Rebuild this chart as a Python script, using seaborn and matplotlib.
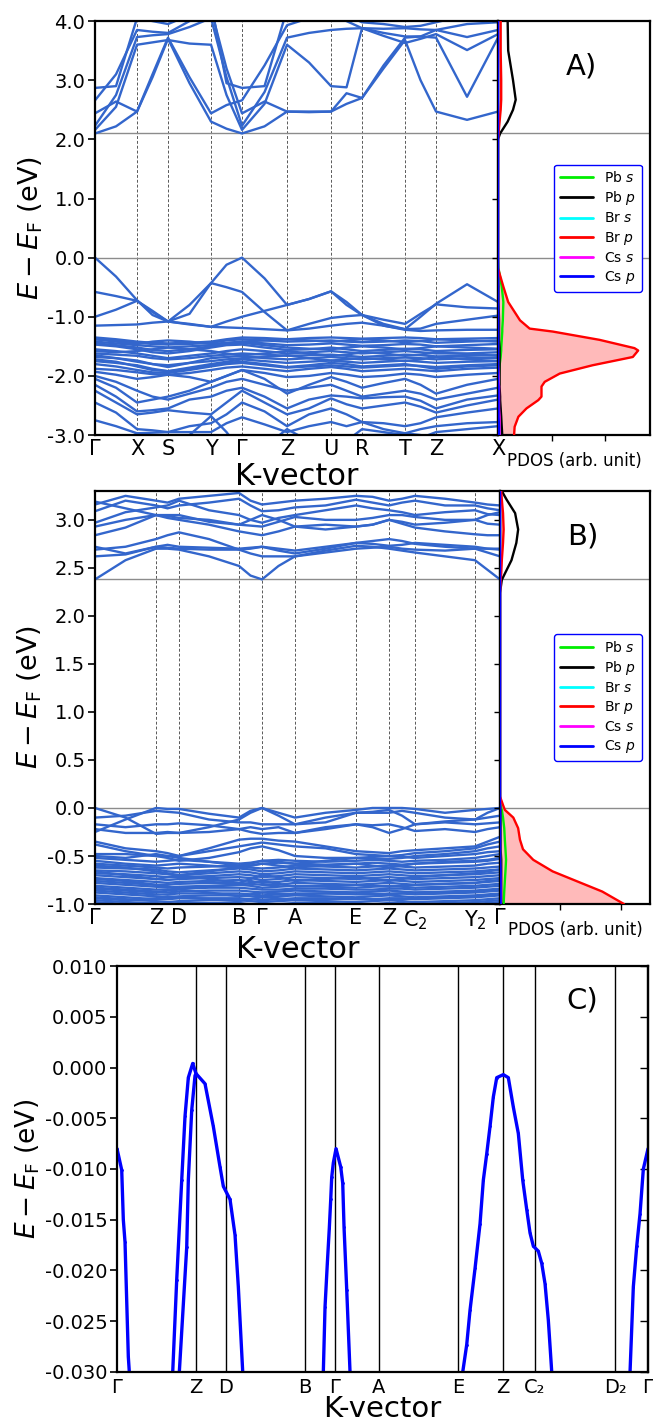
import numpy as np
import pandas as pd
import matplotlib
matplotlib.use("Agg")
import matplotlib.pyplot as plt
from matplotlib.lines import Line2D
from matplotlib.ticker import FormatStrFormatter
import seaborn as sns

sns.set_style("ticks", rc={'axes.edgecolor': 'black', 'text.color': 'black',
                           'axes.labelcolor': 'black', 'xtick.color': 'black',
                           'ytick.color': 'black'})
plt.rcParams['font.family'] = ['DejaVu Sans']
plt.rcParams['axes.unicode_minus'] = False
plt.rcParams['mathtext.fontset'] = 'dejavusans'

BAND_COLOR = '#3366cc'
YLABEL = r'$E-E_{\mathrm{F}}$ (eV)'

# ---------------- Panel A: band structure along G-X-S-Y-G-Z-U-R-T-Z-X ----------------
kA_labels = ['Γ', 'X', 'S', 'Y', 'Γ', 'Z', 'U', 'R', 'T', 'Z', 'X']
kA_ticks = [0.0, 0.42, 0.73, 1.16, 1.47, 1.92, 2.36, 2.67, 3.10, 3.41, 4.03]
gapA = [0.0, 2.10]

condA = [
    [2.10, 2.22, 2.47, 3.05, 3.70, 2.95, 2.30, 2.18, 2.10, 2.22, 2.47, 2.46, 2.47, 2.60, 2.70, 3.20, 3.68, 3.00, 2.47, 2.33, 2.47],
    [2.44, 2.64, 2.47, 3.10, 3.72, 3.05, 2.44, 2.58, 2.66, 3.25, 3.93, 4.05, 4.10, 4.00, 3.88, 3.87, 3.88, 3.86, 3.85, 3.73, 3.85],
    [2.16, 2.55, 3.60, 3.64, 3.68, 3.62, 3.60, 2.75, 2.16, 2.60, 3.60, 3.30, 2.90, 2.88, 3.88, 3.80, 3.74, 3.74, 3.72, 2.72, 3.72],
    [2.23, 2.75, 3.73, 3.76, 3.78, 3.90, 4.05, 3.05, 2.23, 2.80, 3.72, 3.80, 3.85, 3.87, 3.88, 3.75, 3.63, 3.70, 3.78, 3.51, 3.78],
    [2.66, 3.10, 3.85, 3.82, 3.80, 4.00, 4.20, 3.20, 2.44, 2.64, 2.47, 2.47, 2.47, 2.78, 2.70, 3.25, 3.72, 3.74, 3.85, 3.95, 3.98],
    [2.87, 2.90, 4.05, 4.00, 3.95, 4.10, 4.30, 2.95, 2.87, 2.90, 4.20, 4.25, 4.20, 4.10, 3.98, 3.95, 3.90, 3.92, 3.98, 4.10, 4.15],
]

valA = [
    [0.00, -0.32, -0.72, -0.97, -1.08, -0.80, -0.43, -0.12, 0.00, -0.35, -0.80, -0.70, -0.57, -0.75, -0.97, -1.12, -1.21, -1.00, -0.78, -0.45, -0.75],
    [-0.58, -0.65, -0.73, -0.92, -1.08, -0.95, -0.43, -0.50, -0.58, -0.92, -1.23, -1.12, -1.02, -0.99, -0.97, -1.05, -1.12, -0.95, -0.79, -0.84, -0.86],
    [-1.00, -0.88, -0.73, -0.90, -1.08, -1.13, -1.17, -1.08, -1.00, -0.90, -0.80, -0.70, -0.57, -0.80, -0.97, -1.15, -1.21, -1.20, -1.12, -1.05, -0.98],
    [-1.15, -1.14, -1.13, -1.10, -1.08, -1.12, -1.17, -1.18, -1.19, -1.21, -1.23, -1.20, -1.15, -1.12, -1.10, -1.15, -1.22, -1.24, -1.23, -1.22, -1.22],
    [-1.35, -1.38, -1.42, -1.44, -1.45, -1.44, -1.42, -1.38, -1.35, -1.36, -1.38, -1.36, -1.35, -1.36, -1.37, -1.36, -1.35, -1.36, -1.38, -1.37, -1.36],
    [-1.38, -1.40, -1.44, -1.46, -1.47, -1.46, -1.44, -1.40, -1.38, -1.40, -1.42, -1.41, -1.40, -1.42, -1.43, -1.42, -1.40, -1.41, -1.44, -1.42, -1.40],
    [-1.42, -1.45, -1.48, -1.50, -1.52, -1.50, -1.48, -1.45, -1.42, -1.45, -1.48, -1.47, -1.45, -1.47, -1.49, -1.48, -1.46, -1.47, -1.50, -1.48, -1.46],
    [-1.47, -1.50, -1.55, -1.60, -1.62, -1.58, -1.52, -1.48, -1.47, -1.52, -1.56, -1.55, -1.52, -1.55, -1.58, -1.56, -1.54, -1.55, -1.58, -1.56, -1.55],
    [-1.55, -1.58, -1.62, -1.66, -1.70, -1.66, -1.62, -1.58, -1.55, -1.58, -1.62, -1.60, -1.58, -1.60, -1.62, -1.60, -1.58, -1.60, -1.62, -1.62, -1.60],
    [-1.62, -1.64, -1.66, -1.70, -1.72, -1.70, -1.66, -1.64, -1.62, -1.64, -1.66, -1.65, -1.64, -1.66, -1.68, -1.66, -1.64, -1.65, -1.67, -1.66, -1.65],
    [-1.68, -1.70, -1.74, -1.80, -1.85, -1.78, -1.70, -1.68, -1.66, -1.70, -1.72, -1.70, -1.68, -1.70, -1.72, -1.70, -1.69, -1.70, -1.72, -1.70, -1.70],
    [-1.75, -1.78, -1.82, -1.88, -1.92, -1.86, -1.80, -1.76, -1.72, -1.75, -1.78, -1.76, -1.74, -1.76, -1.78, -1.76, -1.74, -1.76, -1.78, -1.76, -1.75],
    [-1.80, -1.84, -1.90, -1.94, -1.95, -1.90, -1.84, -1.80, -1.78, -1.82, -1.86, -1.84, -1.82, -1.84, -1.86, -1.84, -1.82, -1.83, -1.85, -1.82, -1.80],
    [-1.88, -1.90, -1.94, -1.97, -1.98, -1.95, -1.90, -1.86, -1.84, -1.88, -1.92, -1.88, -1.85, -1.88, -1.92, -1.90, -1.88, -1.90, -1.92, -1.88, -1.86],
    [-1.93, -1.98, -2.05, -2.02, -1.98, -2.02, -2.10, -2.00, -1.90, -1.95, -2.02, -2.00, -1.95, -1.98, -2.02, -2.00, -1.96, -1.98, -2.02, -1.98, -1.95],
    [-1.45, -1.48, -1.52, -1.56, -1.58, -1.55, -1.50, -1.46, -1.44, -1.48, -1.52, -1.54, -1.55, -1.52, -1.50, -1.52, -1.55, -1.53, -1.50, -1.52, -1.54],
    [-1.58, -1.60, -1.58, -1.55, -1.52, -1.55, -1.58, -1.62, -1.65, -1.62, -1.58, -1.62, -1.66, -1.64, -1.60, -1.62, -1.66, -1.64, -1.60, -1.63, -1.66],
    [-1.65, -1.70, -1.76, -1.80, -1.82, -1.78, -1.75, -1.72, -1.70, -1.68, -1.65, -1.70, -1.74, -1.72, -1.70, -1.72, -1.75, -1.72, -1.68, -1.72, -1.75],
    [-1.72, -1.76, -1.84, -1.90, -1.92, -1.88, -1.82, -1.78, -1.76, -1.80, -1.85, -1.82, -1.78, -1.80, -1.84, -1.82, -1.80, -1.84, -1.88, -1.84, -1.82],
    [-1.38, -1.42, -1.46, -1.42, -1.40, -1.42, -1.46, -1.44, -1.42, -1.40, -1.38, -1.40, -1.42, -1.40, -1.38, -1.40, -1.43, -1.41, -1.38, -1.40, -1.42],
    [-2.05, -2.20, -2.45, -2.40, -2.35, -2.25, -2.10, -2.00, -1.90, -2.05, -2.30, -2.15, -2.02, -2.10, -2.20, -2.12, -2.05, -2.15, -2.30, -2.15, -2.05],
    [-2.15, -2.35, -2.60, -2.58, -2.55, -2.40, -2.35, -2.25, -2.20, -2.35, -2.55, -2.40, -2.33, -2.35, -2.38, -2.36, -2.35, -2.42, -2.55, -2.40, -2.33],
    [-2.25, -2.45, -2.65, -2.62, -2.58, -2.62, -2.65, -2.45, -2.25, -2.45, -2.65, -2.55, -2.38, -2.48, -2.55, -2.50, -2.45, -2.52, -2.62, -2.50, -2.40],
    [-2.45, -2.62, -2.90, -2.92, -2.95, -2.85, -2.80, -2.65, -2.45, -2.60, -2.85, -2.65, -2.55, -2.65, -2.78, -2.80, -2.85, -2.80, -2.70, -2.62, -2.55],
    [-2.75, -2.85, -2.97, -2.96, -2.95, -2.95, -2.95, -2.80, -2.70, -2.82, -2.95, -2.85, -2.78, -2.85, -2.78, -2.90, -2.97, -2.90, -2.85, -2.80, -2.78],
    [-3.10, -3.05, -3.00, -3.02, -3.05, -3.00, -2.68, -2.95, -3.30, -3.20, -2.90, -3.10, -3.20, -3.10, -2.90, -2.95, -3.00, -3.05, -2.95, -2.90, -2.85],
    [-2.00, -2.10, -2.25, -2.35, -2.40, -2.30, -2.20, -2.10, -2.05, -2.15, -2.25, -2.20, -2.15, -2.25, -2.35, -2.30, -2.25, -2.30, -2.40, -2.30, -2.20],
    [-3.30, -3.20, -2.97, -3.05, -3.10, -3.15, -3.20, -3.40, -3.50, -3.40, -3.05, -3.15, -3.30, -3.20, -3.00, -3.00, -2.97, -3.00, -3.05, -3.10, -3.00],
]

# Projected DOS, panel A
pdosA_E = [-3.00, -2.86, -2.69, -2.55, -2.41, -2.35, -2.18, -2.10, -1.96, -1.82, -1.68, -1.57, -1.53, -1.39, -1.25,
           -1.20, -1.06, -0.75, -0.49, -0.18, 0.00, 1.00, 2.00, 2.10, 2.30, 2.50, 2.67, 3.00, 3.50, 4.00]
pdosA_Pb_s = [0.01, 0.01, 0.01, 0.01, 0.01, 0.01, 0.01, 0.01, 0.02, 0.03, 0.05, 0.06, 0.06, 0.07, 0.08,
              0.08, 0.09, 0.10, 0.07, 0.01, 0.00, 0.00, 0.00, 0.00, 0.00, 0.00, 0.00, 0.00, 0.00, 0.00]
pdosA_Pb_p = [0.08, 0.07, 0.06, 0.05, 0.04, 0.04, 0.03, 0.03, 0.03, 0.03, 0.03, 0.03, 0.03, 0.02, 0.02,
              0.02, 0.02, 0.01, 0.01, 0.00, 0.00, 0.00, 0.00, 0.04, 0.18, 0.28, 0.33, 0.28, 0.19, 0.18]
pdosA_Br_s = [0.01, 0.01, 0.01, 0.01, 0.01, 0.01, 0.01, 0.01, 0.00, 0.00, 0.00, 0.00, 0.00, 0.00, 0.00,
              0.00, 0.00, 0.00, 0.00, 0.00, 0.00, 0.00, 0.00, 0.00, 0.00, 0.00, 0.00, 0.00, 0.00, 0.00]
pdosA_Br_p = [0.30, 0.31, 0.38, 0.53, 0.75, 0.81, 0.81, 0.87, 1.15, 1.76, 2.51, 2.61, 2.54, 1.89, 1.02,
              0.59, 0.41, 0.19, 0.10, 0.00, 0.00, 0.00, 0.00, 0.01, 0.03, 0.05, 0.06, 0.06, 0.05, 0.05]
pdosA_Cs_s = [0.03, 0.03, 0.03, 0.02, 0.02, 0.02, 0.02, 0.01, 0.01, 0.00, 0.00, 0.00, 0.00, 0.00, 0.00,
              0.00, 0.00, 0.00, 0.00, 0.00, 0.00, 0.00, 0.00, 0.00, 0.00, 0.00, 0.00, 0.00, 0.00, 0.00]
pdosA_Cs_p = [0.02, 0.02, 0.01, 0.01, 0.01, 0.01, 0.01, 0.00, 0.00, 0.00, 0.00, 0.00, 0.00, 0.00, 0.00,
              0.00, 0.00, 0.00, 0.00, 0.00, 0.00, 0.00, 0.00, 0.00, 0.00, 0.00, 0.00, 0.00, 0.00, 0.00]

# ---------------- Panel B: band structure along G-Z-D-B-G-A-E-Z-C2-Y2-G ----------------
kB_labels = ['Γ', 'Z', 'D', 'B', 'Γ', 'A', 'E', 'Z', 'C$_2$', 'Y$_2$', 'Γ']
kB_ticks = [0.0, 0.61, 0.84, 1.44, 1.67, 2.00, 2.61, 2.94, 3.20, 3.80, 4.05]
gapB = [0.0, 2.38]

condB = [
    [2.38, 2.58, 2.70, 2.70, 2.69, 2.62, 2.52, 2.42, 2.38, 2.52, 2.62, 2.68, 2.73, 2.72, 2.70, 2.68, 2.66, 2.62, 2.58, 2.48, 2.38],
    [2.62, 2.64, 2.72, 2.71, 2.70, 2.69, 2.69, 2.65, 2.62, 2.62, 2.62, 2.66, 2.70, 2.71, 2.72, 2.70, 2.69, 2.68, 2.70, 2.66, 2.62],
    [2.69, 2.72, 2.80, 2.84, 2.87, 2.80, 2.69, 2.70, 2.72, 2.68, 2.65, 2.70, 2.76, 2.78, 2.80, 2.78, 2.75, 2.72, 2.70, 2.70, 2.69],
    [2.84, 2.92, 3.05, 3.02, 3.00, 2.95, 2.88, 2.86, 2.84, 2.88, 2.93, 2.90, 2.93, 2.95, 3.00, 2.96, 2.92, 2.88, 2.85, 2.84, 2.84],
    [2.93, 3.00, 3.05, 3.05, 3.05, 2.98, 2.95, 2.94, 2.93, 2.98, 3.03, 3.00, 3.00, 3.02, 3.05, 3.05, 3.03, 3.00, 3.00, 2.96, 2.95],
    [2.97, 3.08, 3.13, 3.15, 3.20, 3.10, 3.05, 3.00, 2.97, 3.02, 3.05, 3.10, 3.15, 3.12, 3.10, 3.08, 3.05, 3.08, 3.10, 3.06, 3.05],
    [3.09, 3.20, 3.15, 3.12, 3.15, 3.18, 3.22, 3.15, 3.09, 3.10, 3.13, 3.15, 3.21, 3.18, 3.15, 3.18, 3.20, 3.15, 3.15, 3.12, 3.10],
    [3.16, 3.25, 3.20, 3.18, 3.22, 3.25, 3.28, 3.20, 3.16, 3.18, 3.20, 3.22, 3.25, 3.24, 3.20, 3.22, 3.25, 3.22, 3.18, 3.16, 3.15],
    [2.72, 2.65, 2.72, 2.74, 2.72, 2.71, 2.70, 2.71, 2.72, 2.70, 2.68, 2.72, 2.76, 2.75, 2.73, 2.74, 2.76, 2.74, 2.72, 2.70, 2.70],
    [3.19, 3.12, 3.05, 3.04, 3.02, 3.00, 2.95, 3.00, 3.05, 3.00, 2.93, 2.95, 2.93, 2.95, 3.00, 2.98, 2.95, 2.97, 3.00, 3.05, 3.08],
]

valB = [
    [0.00, -0.10, -0.27, -0.26, -0.26, -0.20, -0.12, -0.05, 0.00, -0.08, -0.17, -0.10, -0.05, -0.04, -0.02, -0.08, -0.17, -0.14, -0.12, -0.05, 0.00],
    [-0.25, -0.12, 0.00, -0.01, -0.01, -0.06, -0.10, -0.03, 0.00, -0.05, -0.10, -0.05, -0.02, 0.00, 0.00, 0.00, -0.01, -0.05, -0.02, -0.01, 0.00],
    [-0.10, -0.08, -0.03, -0.04, -0.05, -0.12, -0.15, -0.15, -0.17, -0.17, -0.17, -0.15, -0.05, -0.05, -0.05, -0.03, -0.05, -0.10, -0.12, -0.10, -0.08],
    [-0.17, -0.20, -0.17, -0.17, -0.16, -0.18, -0.22, -0.20, -0.22, -0.20, -0.26, -0.20, -0.17, -0.20, -0.26, -0.22, -0.17, -0.15, -0.17, -0.16, -0.15],
    [-0.22, -0.26, -0.26, -0.25, -0.26, -0.25, -0.22, -0.25, -0.27, -0.26, -0.26, -0.22, -0.17, -0.18, -0.17, -0.20, -0.24, -0.22, -0.25, -0.22, -0.20],
    [-0.35, -0.42, -0.45, -0.47, -0.50, -0.42, -0.33, -0.32, -0.32, -0.34, -0.35, -0.40, -0.45, -0.46, -0.47, -0.45, -0.44, -0.42, -0.40, -0.35, -0.30],
    [-0.38, -0.45, -0.50, -0.50, -0.50, -0.45, -0.40, -0.38, -0.36, -0.38, -0.40, -0.42, -0.48, -0.49, -0.50, -0.49, -0.47, -0.45, -0.42, -0.38, -0.35],
    [-0.48, -0.48, -0.50, -0.52, -0.55, -0.52, -0.46, -0.42, -0.40, -0.44, -0.50, -0.52, -0.52, -0.53, -0.53, -0.52, -0.50, -0.48, -0.45, -0.42, -0.40],
    [-0.52, -0.54, -0.56, -0.55, -0.54, -0.56, -0.58, -0.57, -0.55, -0.54, -0.55, -0.56, -0.55, -0.54, -0.55, -0.56, -0.55, -0.54, -0.52, -0.50, -0.48],
    [-0.55, -0.58, -0.60, -0.59, -0.58, -0.60, -0.62, -0.60, -0.58, -0.57, -0.58, -0.59, -0.58, -0.57, -0.58, -0.59, -0.58, -0.57, -0.56, -0.55, -0.53],
    [-0.58, -0.60, -0.62, -0.63, -0.62, -0.61, -0.60, -0.62, -0.63, -0.62, -0.60, -0.61, -0.62, -0.61, -0.60, -0.61, -0.62, -0.61, -0.60, -0.58, -0.57],
    [-0.62, -0.63, -0.64, -0.66, -0.67, -0.65, -0.63, -0.64, -0.66, -0.65, -0.63, -0.64, -0.65, -0.64, -0.63, -0.64, -0.65, -0.64, -0.63, -0.62, -0.61],
    [-0.65, -0.66, -0.68, -0.69, -0.70, -0.68, -0.66, -0.67, -0.69, -0.68, -0.66, -0.67, -0.68, -0.67, -0.66, -0.67, -0.68, -0.67, -0.66, -0.65, -0.64],
    [-0.68, -0.69, -0.71, -0.72, -0.72, -0.71, -0.69, -0.70, -0.72, -0.71, -0.69, -0.70, -0.71, -0.70, -0.69, -0.70, -0.71, -0.70, -0.69, -0.68, -0.67],
    [-0.70, -0.72, -0.74, -0.75, -0.74, -0.73, -0.72, -0.73, -0.75, -0.74, -0.72, -0.73, -0.74, -0.73, -0.72, -0.73, -0.74, -0.73, -0.72, -0.71, -0.70],
    [-0.73, -0.75, -0.77, -0.78, -0.77, -0.76, -0.75, -0.76, -0.78, -0.77, -0.75, -0.76, -0.77, -0.76, -0.75, -0.76, -0.77, -0.76, -0.75, -0.74, -0.73],
    [-0.76, -0.78, -0.80, -0.80, -0.79, -0.78, -0.78, -0.79, -0.80, -0.80, -0.78, -0.79, -0.80, -0.79, -0.78, -0.79, -0.80, -0.79, -0.78, -0.77, -0.76],
    [-0.78, -0.80, -0.82, -0.83, -0.82, -0.81, -0.80, -0.81, -0.83, -0.82, -0.81, -0.82, -0.83, -0.82, -0.81, -0.82, -0.83, -0.82, -0.81, -0.80, -0.79],
    [-0.81, -0.83, -0.85, -0.85, -0.84, -0.83, -0.83, -0.84, -0.85, -0.85, -0.84, -0.84, -0.85, -0.85, -0.84, -0.84, -0.85, -0.84, -0.83, -0.82, -0.81],
    [-0.83, -0.85, -0.87, -0.88, -0.87, -0.86, -0.86, -0.87, -0.88, -0.87, -0.86, -0.87, -0.88, -0.87, -0.86, -0.87, -0.88, -0.87, -0.86, -0.85, -0.84],
    [-0.86, -0.88, -0.90, -0.90, -0.89, -0.89, -0.89, -0.90, -0.91, -0.90, -0.89, -0.89, -0.90, -0.90, -0.89, -0.89, -0.90, -0.89, -0.88, -0.87, -0.86],
    [-0.88, -0.90, -0.92, -0.93, -0.92, -0.91, -0.91, -0.92, -0.93, -0.92, -0.91, -0.92, -0.93, -0.92, -0.91, -0.92, -0.93, -0.92, -0.91, -0.90, -0.89],
    [-0.91, -0.93, -0.95, -0.95, -0.94, -0.94, -0.94, -0.95, -0.96, -0.95, -0.94, -0.94, -0.95, -0.95, -0.94, -0.94, -0.95, -0.94, -0.93, -0.92, -0.91],
    [-0.93, -0.95, -0.97, -0.98, -0.97, -0.96, -0.96, -0.97, -0.98, -0.97, -0.96, -0.97, -0.98, -0.97, -0.96, -0.97, -0.98, -0.97, -0.96, -0.95, -0.94],
    [-0.96, -0.98, -0.99, -1.00, -0.99, -0.99, -0.99, -1.00, -1.01, -1.00, -0.99, -0.99, -1.00, -1.00, -0.99, -0.99, -1.00, -0.99, -0.98, -0.97, -0.96],
    [-0.60, -0.62, -0.66, -0.68, -0.70, -0.66, -0.62, -0.60, -0.58, -0.60, -0.62, -0.60, -0.58, -0.60, -0.62, -0.60, -0.58, -0.56, -0.55, -0.54, -0.52],
    [-0.50, -0.52, -0.48, -0.50, -0.52, -0.56, -0.60, -0.58, -0.55, -0.56, -0.58, -0.55, -0.52, -0.51, -0.50, -0.51, -0.52, -0.50, -0.48, -0.46, -0.45],
    [-0.66, -0.70, -0.74, -0.72, -0.70, -0.74, -0.78, -0.74, -0.70, -0.72, -0.76, -0.74, -0.72, -0.74, -0.76, -0.74, -0.72, -0.70, -0.68, -0.66, -0.64],
    [-0.74, -0.76, -0.80, -0.82, -0.84, -0.82, -0.80, -0.78, -0.76, -0.79, -0.82, -0.81, -0.80, -0.81, -0.82, -0.81, -0.80, -0.79, -0.78, -0.76, -0.75],
    [-0.84, -0.86, -0.88, -0.86, -0.85, -0.88, -0.92, -0.90, -0.88, -0.89, -0.90, -0.89, -0.88, -0.89, -0.90, -0.89, -0.88, -0.88, -0.87, -0.86, -0.85],
    [-0.94, -0.96, -0.94, -0.92, -0.93, -0.95, -0.97, -0.95, -0.93, -0.94, -0.96, -0.95, -0.94, -0.95, -0.96, -0.95, -0.94, -0.93, -0.92, -0.91, -0.90],
    [-0.98, -1.00, -1.02, -1.03, -1.02, -1.01, -1.00, -1.02, -1.03, -1.02, -1.00, -1.01, -1.02, -1.01, -1.00, -1.01, -1.02, -1.01, -1.00, -0.99, -0.98],
]

# Projected DOS, panel B
pdosB_E = [-1.00, -0.87, -0.76, -0.66, -0.54, -0.43, -0.33, -0.21, -0.10, -0.02, 0.03, 0.12,
           0.50, 1.00, 2.00, 2.24, 2.375, 2.44, 2.58, 2.76, 2.90, 3.07, 3.21, 3.30]
pdosB_Pb_s = [0.06, 0.07, 0.08, 0.09, 0.10, 0.09, 0.08, 0.07, 0.05, 0.03, 0.01, 0.00,
              0.00, 0.00, 0.00, 0.00, 0.00, 0.00, 0.00, 0.00, 0.00, 0.00, 0.00, 0.00]
pdosB_Pb_p = [0.02, 0.02, 0.02, 0.02, 0.02, 0.01, 0.01, 0.01, 0.01, 0.01, 0.00, 0.00,
              0.00, 0.00, 0.00, 0.00, 0.03, 0.08, 0.19, 0.27, 0.30, 0.25, 0.11, 0.03]
pdosB_Br_s = [0.01, 0.01, 0.00, 0.00, 0.00, 0.00, 0.00, 0.00, 0.00, 0.00, 0.00, 0.00,
              0.00, 0.00, 0.00, 0.00, 0.00, 0.00, 0.00, 0.00, 0.00, 0.00, 0.00, 0.00]
pdosB_Br_p = [2.05, 1.69, 1.26, 0.87, 0.55, 0.38, 0.33, 0.30, 0.22, 0.08, 0.05, 0.00,
              0.00, 0.00, 0.00, 0.00, 0.01, 0.02, 0.03, 0.05, 0.06, 0.05, 0.03, 0.02]
pdosB_Cs_s = [0.01, 0.01, 0.01, 0.00, 0.00, 0.00, 0.00, 0.00, 0.00, 0.00, 0.00, 0.00,
              0.00, 0.00, 0.00, 0.00, 0.00, 0.00, 0.00, 0.00, 0.00, 0.00, 0.00, 0.00]
pdosB_Cs_p = [0.01, 0.01, 0.01, 0.01, 0.00, 0.00, 0.00, 0.00, 0.00, 0.00, 0.00, 0.00,
              0.00, 0.00, 0.00, 0.00, 0.00, 0.00, 0.00, 0.00, 0.00, 0.00, 0.00, 0.00]

orbital_labels = ['Pb $s$', 'Pb $p$', 'Br $s$', 'Br $p$', 'Cs $s$', 'Cs $p$']
orbital_colors = ['#00ee00', 'black', 'cyan', 'red', 'magenta', 'blue']

# ---------------- Panel C: top valence band close to the Fermi level ----------------
kC_labels = ['Γ', 'Z', 'D', 'B', 'Γ', 'A', 'E', 'Z', 'C₂', 'D₂', 'Γ']
kC_ticks = [0.0, 0.79, 1.09, 1.88, 2.18, 2.62, 3.41, 3.86, 4.18, 4.98, 5.31]

vbmC_k = [
    [0.000, 0.047, 0.063, 0.080, 0.113, 0.123, 0.130],
    [0.557, 0.597, 0.647, 0.680, 0.713, 0.757, 0.790, 0.880, 0.963, 1.030, 1.063, 1.130, 1.180, 1.213, 1.257],
    [0.623, 0.697, 0.713, 0.747, 0.780, 0.790],
    [2.063, 2.080, 2.103, 2.123, 2.137, 2.147, 2.163, 2.190, 2.237, 2.257, 2.270, 2.297, 2.330],
    [3.457, 3.497, 3.530, 3.580, 3.630, 3.663, 3.697, 3.730, 3.763, 3.797, 3.863, 3.913, 3.963, 4.013,
     4.057, 4.097, 4.130, 4.163, 4.213, 4.247, 4.280, 4.313, 4.347],
    [5.130, 5.163, 5.197, 5.230, 5.263, 5.310],
]
vbmC_E = [
    [-0.0080, -0.0101, -0.0150, -0.0172, -0.0285, -0.0300, -0.0320],
    [-0.0300, -0.0209, -0.0111, -0.0048, -0.0010, 0.0004, -0.0006, -0.0016, -0.0058, -0.0098, -0.0117,
     -0.0130, -0.0165, -0.0216, -0.0300],
    [-0.0300, -0.0177, -0.0111, -0.0042, -0.0008, -0.0006],
    [-0.0300, -0.0236, -0.0193, -0.0158, -0.0130, -0.0108, -0.0094, -0.0080, -0.0098, -0.0114, -0.0157,
     -0.0219, -0.0300],
    [-0.0300, -0.0273, -0.0239, -0.0198, -0.0154, -0.0111, -0.0085, -0.0058, -0.0029, -0.0010, -0.0007,
     -0.0010, -0.0039, -0.0065, -0.0111, -0.0140, -0.0163, -0.0176, -0.0181, -0.0193, -0.0213, -0.0249,
     -0.0300],
    [-0.0300, -0.0216, -0.0176, -0.0144, -0.0100, -0.0080],
]


def path_grid(ticks):
    grid = []
    for a, b in zip(ticks[:-1], ticks[1:]):
        grid += [a, 0.5 * (a + b)]
    grid.append(ticks[-1])
    return grid


def band_frame(kgrid, bands):
    rows = []
    for i, band in enumerate(bands):
        if len(band) != len(kgrid):
            raise ValueError("band %d has %d values" % (i, len(band)))
        for k, e in zip(kgrid, band):
            rows.append((i, k, e))
    return pd.DataFrame(rows, columns=['band', 'k', 'E'])


def draw_band_panel(ax, ticks, labels, bands, ylim, yticks, gaps):
    df = band_frame(path_grid(ticks), bands)
    sns.lineplot(data=df, x='k', y='E', units='band', estimator=None, sort=False,
                 color=BAND_COLOR, lw=1.7, legend=False, ax=ax)
    for t in ticks[1:-1]:
        ax.axvline(t, color='0.35', lw=0.7, ls=(0, (3, 2)), zorder=0)
    for g in gaps:
        ax.axhline(g, color='0.55', lw=1.0, zorder=0)
    ax.set_xlim(ticks[0], ticks[-1])
    ax.set_ylim(*ylim)
    ax.set_xticks(ticks)
    ax.set_xticklabels(labels, fontsize=15)
    ax.set_yticks(yticks)
    ax.yaxis.set_major_formatter(FormatStrFormatter('%.1f'))
    ax.tick_params(axis='x', length=0, pad=3)
    ax.tick_params(axis='y', direction='out', length=5, width=1.2, labelsize=14, pad=2)
    ax.set_xlabel('K-vector', fontsize=22, labelpad=2)
    ax.set_ylabel(YLABEL, fontsize=19.5, labelpad=2)
    for s in ax.spines.values():
        s.set_linewidth(1.6)
        s.set_visible(True)


def draw_pdos_panel(ax, energies, series, xlim, ylim, yticks, gaps, tag):
    for vals, col, lab in zip(series, orbital_colors, orbital_labels):
        if lab == 'Br $p$':
            ax.fill_betweenx(energies, 0, vals, color='#ffbaba', lw=0, zorder=1)
    for vals, col, lab in zip(series, orbital_colors, orbital_labels):
        sns.lineplot(x=vals, y=energies, sort=False, estimator=None, orient='y',
                     color=col, lw=1.7, ax=ax, legend=False, zorder=3)
    for g in gaps:
        ax.axhline(g, color='0.55', lw=1.0, zorder=0)
    ax.set_xlim(*xlim)
    ax.set_ylim(*ylim)
    ax.set_xticks([1, 2])
    ax.set_xticklabels([])
    ax.set_yticks(yticks)
    ax.set_yticklabels([])
    ax.tick_params(axis='both', direction='out', length=4, width=1.0)
    ax.set_xlabel('PDOS (arb. unit)', fontsize=12, labelpad=5)
    ax.set_ylabel('')
    for s in ax.spines.values():
        s.set_linewidth(1.6)
        s.set_visible(True)
    handles = [Line2D([], [], color=c, lw=2) for c in orbital_colors]
    leg = ax.legend(handles, orbital_labels, loc='center right', fontsize=10,
                    labelspacing=0.3, handlelength=2.4, borderaxespad=0.6,
                    frameon=True, fancybox=True, framealpha=1.0)
    leg.get_frame().set_edgecolor('blue')
    leg.get_frame().set_linewidth(1.0)
    ax.text(0.55, 0.89, tag, transform=ax.transAxes, fontsize=21,
            ha='center', va='center')


fig = plt.figure(figsize=(6.53, 14.25), dpi=100)

# Panel A
axA = fig.add_axes([0.1455, 0.6947, 0.6172, 0.2905])
axA_p = fig.add_axes([0.7626, 0.6947, 0.2328, 0.2905])
draw_band_panel(axA, kA_ticks, kA_labels, condA + valA, (-3.0, 4.0),
                [-3, -2, -1, 0, 1, 2, 3, 4], gapA)
draw_pdos_panel(axA_p, pdosA_E,
                [pdosA_Pb_s, pdosA_Pb_p, pdosA_Br_s, pdosA_Br_p, pdosA_Cs_s, pdosA_Cs_p],
                (0, 2.83), (-3.0, 4.0), [-3, -2, -1, 0, 1, 2, 3, 4], gapA, 'A)')

# Panel B
axB = fig.add_axes([0.1455, 0.3656, 0.6202, 0.2898])
axB_p = fig.add_axes([0.7657, 0.3656, 0.2297, 0.2898])
draw_band_panel(axB, kB_ticks, kB_labels, condB + valB, (-1.0, 3.3),
                [-1.0, -0.5, 0.0, 0.5, 1.0, 1.5, 2.0, 2.5, 3.0], gapB)
draw_pdos_panel(axB_p, pdosB_E,
                [pdosB_Pb_s, pdosB_Pb_p, pdosB_Br_s, pdosB_Br_p, pdosB_Cs_s, pdosB_Cs_p],
                (0, 2.48), (-1.0, 3.3), [-1.0, -0.5, 0.0, 0.5, 1.0, 1.5, 2.0, 2.5, 3.0], gapB, 'B)')

# Panel C
axC = fig.add_axes([0.1792, 0.0372, 0.8132, 0.2849])
rows = []
for i, (ks, es) in enumerate(zip(vbmC_k, vbmC_E)):
    for k, e in zip(ks, es):
        rows.append((i, k, e))
dfC = pd.DataFrame(rows, columns=['seg', 'k', 'E'])
sns.lineplot(data=dfC, x='k', y='E', units='seg', estimator=None, sort=False,
             color='blue', lw=2.4, marker='.', markersize=4, markeredgewidth=0,
             legend=False, ax=axC)
for t in kC_ticks[1:-1]:
    axC.axvline(t, color='black', lw=1.0, zorder=0)
axC.set_xlim(kC_ticks[0], kC_ticks[-1])
axC.set_ylim(-0.030, 0.010)
axC.set_xticks(kC_ticks)
axC.set_xticklabels(kC_labels, fontsize=14)
axC.set_yticks([-0.030, -0.025, -0.020, -0.015, -0.010, -0.005, 0.000, 0.005, 0.010])
axC.yaxis.set_major_formatter(FormatStrFormatter('%.3f'))
axC.tick_params(axis='x', length=0, pad=4)
axC.tick_params(axis='y', direction='out', length=5, width=1.2, labelsize=14, pad=2)
sec = axC.secondary_yaxis('right')
sec.set_yticks([-0.030, -0.025, -0.020, -0.015, -0.010, -0.005, 0.000, 0.005, 0.010])
sec.tick_params(axis='y', direction='in', length=6, width=1.0, labelright=False)
sec.spines['right'].set_linewidth(1.6)
axC.set_xlabel('K-vector', fontsize=21, labelpad=-1)
axC.set_ylabel(YLABEL, fontsize=19, labelpad=2)
for s in axC.spines.values():
    s.set_linewidth(1.6)
    s.set_visible(True)
axC.text(0.876, 0.916, 'C)', transform=axC.transAxes, fontsize=21, ha='center', va='center')

fig.savefig('out.png', dpi=100)
